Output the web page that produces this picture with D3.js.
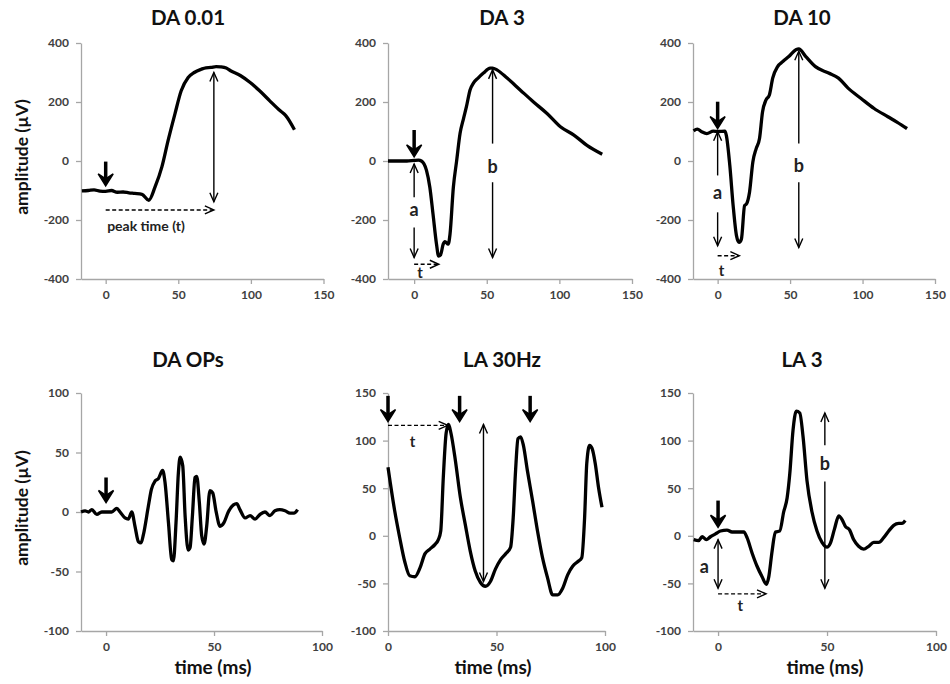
<!DOCTYPE html>
<html>
<head>
<meta charset="utf-8">
<script src="https://cdn.jsdelivr.net/npm/d3@7"></script>
<style>
  body { margin: 0; background: #fff; }
  text { font-family: Lato, "Open Sans", sans-serif; font-weight: bold; }
</style>
</head>
<body>
<svg width="950" height="684"></svg>
<script>
// tick values
const xTicksTop = [0, 50, 100, 150];
const xTicksBottom = [0, 50, 100];
const yTicksTop = [-400, -200, 0, 200, 400];
const yTicksOps = [-100, -50, 0, 50, 100];
const yTicksLA = [-100, -50, 0, 50, 100, 150];

// DA 0.01 trace (ms, uV)
const da001Time = [-16.4, -12, -8, -4, 0, 4, 8, 12, 16, 20, 25, 29.7, 34, 38.7, 43, 47.7, 52, 56.8, 61, 65.8, 69, 72.5, 76, 79, 83, 86, 93, 99.5, 106, 113, 120, 124, 130];
const da001Amp = [-101, -100, -98, -102, -103, -100, -106, -105, -108, -110, -113, -133, -88, -20, 70, 160, 238, 283, 300, 311, 316, 317, 320, 319, 315, 306, 289, 266, 238, 204, 171, 154, 106];

// DA 3 trace
const da3Time = [-18, -10, -5, 0, 3, 5, 8.5, 10.8, 13, 15.4, 16.8, 18.2, 20, 21.2, 23.5, 24.7, 27, 29.3, 31.6, 34, 36, 38.5, 40.8, 44, 47.7, 52.3, 54, 57, 64, 73, 82, 91.5, 100.7, 110, 119, 129.5];
const da3Amp = [0, 0, 0, 2, 3, 0, -32, -89, -180, -282, -322, -318, -282, -273, -282, -248, -89, 2, 93, 144, 184, 241, 264, 281, 298, 315, 315, 309, 281, 241, 201, 161, 116, 88, 53, 23];

// DA 10 trace
const da10Time = [-16.6, -14, -11, -7.5, -3, 0, 5, 6, 8.4, 10.7, 13, 14.8, 16.4, 18.6, 20, 22, 24.3, 26.6, 28.9, 31, 33.4, 35.7, 38, 41.4, 45, 49.3, 54, 56, 60.7, 67.5, 76.6, 83.4, 90, 99, 108, 117.5, 124, 130.7];
const da10Amp = [102, 108, 99, 93, 101, 100, 101, 87, -15, -151, -253, -276, -265, -151, -145, -106, -3, 42, 76, 167, 207, 224, 281, 320, 337, 355, 377, 380, 355, 320, 298, 281, 247, 212, 178, 150, 131, 110];

// DA OPs trace
const opsTime = [-11.6, -9.7, -8.2, -6.6, -4.3, -2, 0.3, 2.6, 5, 6.5, 8.8, 10.3, 11.9, 13.4, 15, 16.2, 17.3, 19.6, 21, 22.7, 24.2, 26.2, 27.3, 28.9, 30.4, 31.2, 32.4, 33.5, 34.3, 35.5, 36.6, 38, 38.9, 40, 41.2, 42, 43.2, 44.3, 45.4, 46.6, 48.1, 49.4, 50.9, 52.8, 54.6, 56.6, 59, 60.5, 62, 64.4, 66.7, 69, 71.3, 73.6, 75.9, 78.2, 80.5, 82.9, 85.2, 87, 88.7];
const opsAmp = [0, 1, 0, 2, -2, 0, 0, 0, 3, 0, -5, -6, 0, -12, -25, -26, -19, 5, 19, 26, 28, 35, 25, -9, -40, -41, -9, 33, 46, 39, -3, -32, -30, -3, 29, 30, 8, -20, -27, -12, 18, 16, 1, -12, -9, 0, 6, 7, 2, -5, -3, -6, -2, 0, -3, 1, 2, 1, -1, -1, 2];

// LA 30Hz flicker trace
const flickTime = [0, 1.1, 3.1, 5.4, 7.7, 10, 12.4, 14.7, 17, 19.3, 21.7, 23.2, 24.3, 25.5, 26.8, 27.9, 29, 31, 33.3, 35.6, 37.9, 40.2, 42.6, 44.9, 47.2, 49.5, 51.9, 54.2, 56.5, 57.7, 58.8, 59.9, 61.1, 62.4, 64.2, 66.6, 68.9, 71.2, 73.5, 75.9, 78.2, 80.5, 82.8, 85.1, 87.5, 89.3, 90.6, 91.6, 92.9, 94, 95.5, 97, 98.6];
const flickAmp = [72, 55, 26, -2, -27, -42, -43, -34, -19, -14, -9, -4, 5, 62, 108, 117, 108, 80, 41, 12, -16, -37, -49, -53, -48, -35, -25, -19, -12, 19, 69, 102, 104, 95, 69, 37, 5, -23, -44, -62, -62, -55, -41, -32, -27, -23, 19, 76, 95, 92, 76, 51, 30];

// LA 3 trace
const la3Time = [-11.2, -8.9, -7.3, -5.4, -3.5, -1.2, 1.1, 4.1, 6.4, 8.7, 11.8, 13.3, 15.6, 17.9, 20.2, 22.2, 23.2, 24.8, 26.3, 28.3, 30.1, 31.7, 32.9, 34.4, 35.9, 37.5, 39, 40.8, 43.1, 45.4, 47.7, 50, 51.5, 53.4, 55.4, 56.9, 58.4, 60.4, 62.2, 64.5, 66.8, 69.1, 71.4, 73.7, 76, 78.3, 80.6, 82.9, 84.4, 85.9];
const la3Amp = [-4, -5, -1, -4, -1, 2, 5, 6, 4, 4, 4, -2, -18, -32, -43, -51, -44, -16, 4, 5, 25, 40, 65, 111, 131, 129, 104, 58, 25, 5, -7, -12, -8, 7, 21, 17, 10, 6, -4, -11, -14, -11, -7, -7, -2, 5, 11, 13, 13, 16];

// stimulus markers: time, top value, tip value
const da001Marks = [{ t: 0, from: -2, to: -84 }];
const da3Marks = [{ t: 0, from: 105, to: 14 }];
const da10Marks = [{ t: 0, from: 201, to: 110 }];
const opsMarks = [{ t: 0, from: 29, to: 8 }];
const flickMarks = [{ t: 0, from: 147, to: 120 }, { t: 33, from: 147, to: 120 }, { t: 65.5, from: 147, to: 120 }];
const la3Marks = [{ t: 0, from: 37, to: 9 }];

// amplitude arrows (double headed), optional label in a gap
const da001Spans = [{ t: 74.5, top: 300, bottom: -138 }];
const da3Spans = [
  { t: 0, top: -10, bottom: -327, gap: [-123, -225], label: "a", labelY: -165 },
  { t: 54, top: 309, bottom: -327, gap: [59, -72], label: "b", labelY: -20 }
];
const da10Spans = [
  { t: 0, top: 99, bottom: -287, gap: [-49, -174], label: "a", labelY: -106 },
  { t: 56, top: 372, bottom: -293, gap: [59, -72], label: "b", labelY: -15 }
];
const flickSpans = [{ t: 44, top: 117, bottom: -48 }];
const la3Spans = [
  { t: 0, top: -4, bottom: -55 },
  { t: 49, top: 129, bottom: -55, gap: [95, 57], label: "b", labelY: 76 }
];

// peak time arrows (dashed)
const da001Dashes = [{ t0: 0, t1: 74.5, y: -166 }];
const da3Dashes = [{ t0: 0, t1: 17, y: -350 }];
const da10Dashes = [{ t0: 0, t1: 15, y: -321 }];
const flickDashes = [{ t0: 0, t1: 27.5, y: 116 }];
const la3Dashes = [{ t0: 0, t1: 22, y: -61 }];

// free labels
const da001Notes = [{ t: 1, y: -222, text: "peak time (t)", size: 14, anchor: "start" }];
const da3Notes = [{ t: 4, y: -378, text: "t", size: 15, anchor: "middle" }];
const da10Notes = [{ t: 2.7, y: -373, text: "t", size: 15, anchor: "middle" }];
const flickNotes = [{ t: 11.3, y: 99, text: "t", size: 15, anchor: "middle" }];
const la3Notes = [
  { t: 10.2, y: -73, text: "t", size: 15, anchor: "middle" },
  { t: -6.3, y: -32, text: "a", size: 18, anchor: "middle" }
];

const panels = [
  { title: "DA 0.01", t: da001Time, v: da001Amp, xDom: [-17, 150], yDom: [-400, 400], xTicks: xTicksTop, yTicks: yTicksTop,
    box: [81, 323.5, 43, 279], titleX: 188, titleY: 25, yLabel: 157, marks: da001Marks, spans: da001Spans, dashes: da001Dashes, notes: da001Notes },
  { title: "DA 3", t: da3Time, v: da3Amp, xDom: [-18, 150], yDom: [-400, 400], xTicks: xTicksTop, yTicks: yTicksTop,
    box: [388, 632, 43, 279], titleX: 502, titleY: 25, marks: da3Marks, spans: da3Spans, dashes: da3Dashes, notes: da3Notes },
  { title: "DA 10", t: da10Time, v: da10Amp, xDom: [-17, 150], yDom: [-400, 400], xTicks: xTicksTop, yTicks: yTicksTop,
    box: [693, 935, 43, 279], titleX: 802, titleY: 25, marks: da10Marks, spans: da10Spans, dashes: da10Dashes, notes: da10Notes },
  { title: "DA OPs", t: opsTime, v: opsAmp, xDom: [-11.6, 100], yDom: [-100, 100], xTicks: xTicksBottom, yTicks: yTicksOps,
    box: [81, 322, 393, 631], titleX: 188, titleY: 367, yLabel: 508, xLabel: 213, marks: opsMarks, spans: [], dashes: [], notes: [] },
  { title: "LA 30Hz", t: flickTime, v: flickAmp, xDom: [0, 100], yDom: [-100, 150], xTicks: xTicksBottom, yTicks: yTicksLA,
    box: [388, 605, 393, 631], titleX: 502, titleY: 367, xLabel: 493, marks: flickMarks, spans: flickSpans, dashes: flickDashes, notes: flickNotes },
  { title: "LA 3", t: la3Time, v: la3Amp, xDom: [-11.5, 100], yDom: [-100, 150], xTicks: xTicksBottom, yTicks: yTicksLA,
    box: [693, 936, 393, 631], titleX: 802, titleY: 367, xLabel: 825, marks: la3Marks, spans: la3Spans, dashes: la3Dashes, notes: la3Notes }
];

const svg = d3.select("svg");
const axisColor = "#a6a6a6";
const labelColor = "#404040";

function thinHead(g, x, y, dir) {
  // open V head; dir = "up" | "down" | "right"
  let pts;
  if (dir === "up") pts = [[x - 4, y + 9], [x, y], [x + 4, y + 9]];
  else if (dir === "down") pts = [[x - 4, y - 9], [x, y], [x + 4, y - 9]];
  else pts = [[x - 9, y - 4], [x, y], [x - 9, y + 4]];
  g.append("polyline")
    .attr("points", pts.map(p => p.join(",")).join(" "))
    .attr("fill", "none")
    .attr("stroke", "#000")
    .attr("stroke-width", 1.4);
}

panels.forEach(p => {
  const x = d3.scaleLinear().domain(p.xDom).range([p.box[0], p.box[1]]);
  const y = d3.scaleLinear().domain(p.yDom).range([p.box[3], p.box[2]]);
  const g = svg.append("g");

  const xAxis = g.append("g")
    .attr("transform", `translate(0,${p.box[3]})`)
    .call(d3.axisBottom(x).tickValues(p.xTicks).tickSize(5).tickSizeOuter(0).tickPadding(6).tickFormat(d => String(d)));
  const yAxis = g.append("g")
    .attr("transform", `translate(${p.box[0]},0)`)
    .call(d3.axisLeft(y).tickValues(p.yTicks).tickSize(5).tickSizeOuter(0).tickPadding(7).tickFormat(d => String(d)));
  [xAxis, yAxis].forEach(a => {
    a.select(".domain").attr("stroke", axisColor).attr("stroke-width", 1.3);
    a.selectAll(".tick line").attr("stroke", axisColor).attr("stroke-width", 1.3);
    a.selectAll(".tick text")
      .attr("fill", labelColor)
      .style("font-size", "12px")
      .style("font-family", "Lato, sans-serif")
      .style("font-weight", "bold");
  });

  // title
  g.append("text")
    .attr("x", p.titleX)
    .attr("y", p.titleY)
    .attr("text-anchor", "middle")
    .style("font-size", "20.5px")
    .attr("fill", "#111")
    .text(p.title);

  if (p.yLabel) {
    g.append("text")
      .attr("transform", `translate(28,${p.yLabel}) rotate(-90)`)
      .attr("text-anchor", "middle")
      .style("font-size", "17.5px")
      .attr("fill", "#111")
      .text("amplitude (µV)");
  }
  if (p.xLabel) {
    g.append("text")
      .attr("x", p.xLabel)
      .attr("y", 674)
      .attr("text-anchor", "middle")
      .style("font-size", "19px")
      .attr("fill", "#111")
      .text("time (ms)");
  }

  // trace
  const line = d3.line()
    .x(d => x(d[0]))
    .y(d => y(d[1]))
    .curve(d3.curveMonotoneX);
  g.append("path")
    .datum(d3.zip(p.t, p.v))
    .attr("d", line)
    .attr("fill", "none")
    .attr("stroke", "#000")
    .attr("stroke-width", 3.3)
    .attr("stroke-linejoin", "round");

  // stimulus markers
  p.marks.forEach(m => {
    const mx = x(m.t), y0 = y(m.from), y1 = y(m.to);
    g.append("line")
      .attr("x1", mx).attr("x2", mx)
      .attr("y1", y0).attr("y2", y1 - 3)
      .attr("stroke", "#000").attr("stroke-width", 3.5);
    g.append("path")
      .attr("d", `M${mx - 7.5},${y1 - 12} L${mx},${y1} L${mx + 7.5},${y1 - 12} L${mx},${y1 - 7} Z`)
      .attr("fill", "#000")
      .attr("stroke", "#000")
      .attr("stroke-width", 1.5)
      .attr("stroke-linejoin", "miter");
  });

  // amplitude arrows
  p.spans.forEach(s => {
    const sx = x(s.t), yt = y(s.top), yb = y(s.bottom);
    const segs = s.gap ? [[yt, y(s.gap[0])], [y(s.gap[1]), yb]] : [[yt, yb]];
    segs.forEach(seg => {
      g.append("line")
        .attr("x1", sx).attr("x2", sx)
        .attr("y1", seg[0]).attr("y2", seg[1])
        .attr("stroke", "#000").attr("stroke-width", 1.4);
    });
    thinHead(g, sx, yt, "up");
    thinHead(g, sx, yb, "down");
    if (s.label) {
      g.append("text")
        .attr("x", sx)
        .attr("y", y(s.labelY))
        .attr("dy", "0.35em")
        .attr("text-anchor", "middle")
        .style("font-size", "18px")
        .attr("fill", "#222")
        .text(s.label);
    }
  });

  // peak time arrows
  p.dashes.forEach(d => {
    const dy = y(d.y);
    g.append("line")
      .attr("x1", x(d.t0)).attr("x2", x(d.t1) - 1)
      .attr("y1", dy).attr("y2", dy)
      .attr("stroke", "#000").attr("stroke-width", 1.4)
      .attr("stroke-dasharray", "4,2.5");
    thinHead(g, x(d.t1), dy, "right");
  });

  p.notes.forEach(n => {
    g.append("text")
      .attr("x", x(n.t))
      .attr("y", y(n.y))
      .attr("dy", "0.35em")
      .attr("text-anchor", n.anchor)
      .style("font-size", n.size + "px")
      .attr("fill", "#222")
      .text(n.text);
  });
});
</script>
</body>
</html>
